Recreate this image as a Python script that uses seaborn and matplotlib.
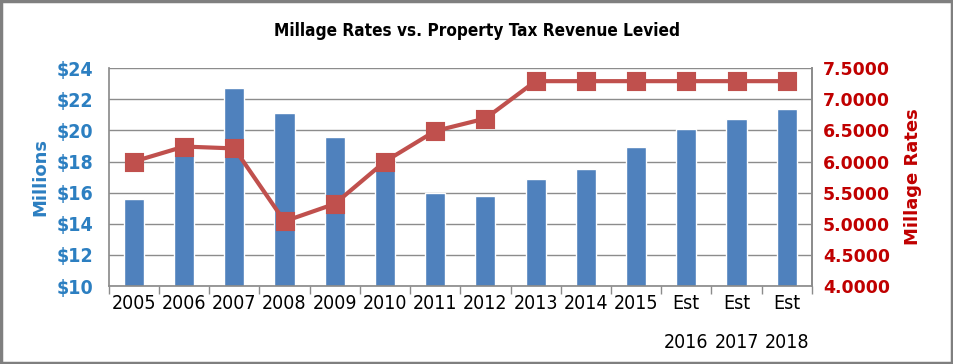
import numpy as np
import pandas as pd
import seaborn as sns
import matplotlib.pyplot as plt
from matplotlib.patches import Rectangle
from matplotlib.ticker import FixedLocator

# ================= 数据 =================
years = ['2005', '2006', '2007', '2008', '2009', '2010', '2011', '2012',
         '2013', '2014', '2015', 'Est\n2016', 'Est\n2017', 'Est\n2018']
revenue = [15.6, 18.8, 22.7, 21.1, 19.6, 18.0, 16.0, 15.8,
           16.9, 17.5, 18.9, 20.1, 20.7, 21.4]  # millions
millage = [6.00, 6.24, 6.21, 5.04, 5.32, 6.00, 6.49, 6.69,
           7.29, 7.29, 7.29, 7.29, 7.29, 7.29]
left_ticks = [10, 12, 14, 16, 18, 20, 22, 24]
right_ticks = [4.0, 4.5, 5.0, 5.5, 6.0, 6.5, 7.0, 7.5]

BAR_C = '#4F81BD'
LINE_C = '#C0504D'
BLUE_TXT = '#2C7FC1'
RED_TXT = '#C00000'
GRID_C = '#8C8C8C'

df = pd.DataFrame({'year': years, 'revenue': revenue, 'millage': millage})

sns.set_theme(style='white')
plt.rcParams['font.family'] = ['DejaVu Sans']
plt.rcParams['text.color'] = 'black'

fig = plt.figure(figsize=(9.54, 3.64), dpi=100)
ax = fig.add_axes([0.114, 0.214, 0.737, 0.599])

# 柱状图：收入
sns.barplot(data=df, x='year', y='revenue', color=BAR_C, width=0.4,
            saturation=1, ax=ax, zorder=2)
ax.set_ylim(10, 24)
ax.set_yticks(left_ticks)
ax.set_yticklabels([f'${v}' for v in left_ticks], color=BLUE_TXT,
                   fontsize=14, fontweight='bold', fontstretch='condensed')
ax.yaxis.grid(True, color=GRID_C, linewidth=1)
ax.set_axisbelow(True)
ax.set_xlim(-0.5, len(years) - 0.5)
ax.set_xlabel('')
ax.set_ylabel('Millions', color=BLUE_TXT, fontsize=13, fontweight='bold',
              labelpad=5)
ax.tick_params(axis='x', which='major', length=0, pad=5.5)
ax.tick_params(axis='y', length=0, pad=11)
ax.xaxis.set_minor_locator(FixedLocator(np.arange(-0.5, len(years), 1)))
ax.tick_params(axis='x', which='minor', length=6, color=GRID_C,
               direction='out', bottom=True)
for lbl in ax.get_xticklabels():
    lbl.set_linespacing(2.35)
    lbl.set_verticalalignment('top')
    lbl.set_fontsize(14)
    lbl.set_fontstretch('condensed')
    lbl.set_color('black')

ax.spines['top'].set_visible(False)
for s in ['left', 'right', 'bottom']:
    ax.spines[s].set_color(GRID_C)

# 折线：税率
ax2 = ax.twinx()
sns.pointplot(data=df, x='year', y='millage', color=LINE_C, marker='s',
              markersize=12, linewidth=3, errorbar=None, ax=ax2)
ax2.set_ylim(4.0, 7.5)
ax2.set_yticks(right_ticks)
ax2.set_yticklabels([f'{v:.4f}' for v in right_ticks], color=RED_TXT,
                    fontsize=12.5, fontweight='bold')
ax2.tick_params(axis='y', length=0, pad=8)
ax2.set_ylabel('Millage Rates', color=RED_TXT, fontsize=13, fontweight='bold',
               labelpad=10)
ax2.set_xlabel('')
ax2.set_xlim(-0.5, len(years) - 0.5)
for s in ['top', 'left', 'bottom']:
    ax2.spines[s].set_visible(False)
ax2.spines['right'].set_color(GRID_C)

fig.text(0.5, 0.915, 'Millage Rates vs. Property Tax Revenue Levied',
         ha='center', va='center', fontsize=12.3, fontweight='bold',
         fontstretch='condensed', color='black')

fig.add_artist(Rectangle((0.001, 0.002), 0.997, 0.995, transform=fig.transFigure,
                         fill=False, edgecolor='#7F7F7F', linewidth=2.5))

fig.savefig('out.png', dpi=100)
